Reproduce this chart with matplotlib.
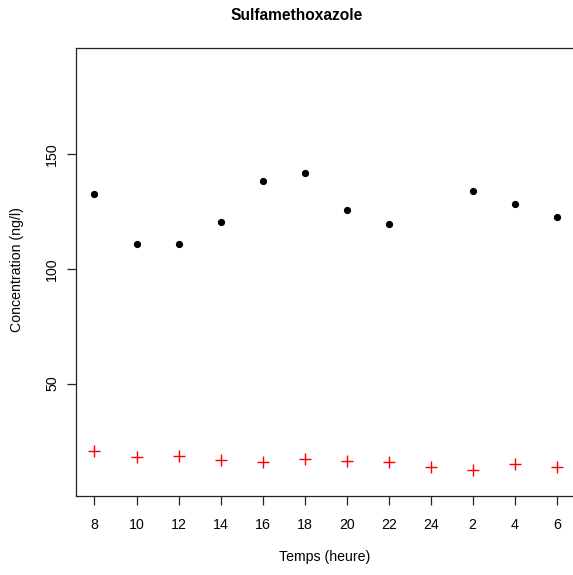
import numpy as np
import matplotlib
matplotlib.use("Agg")
import matplotlib.pyplot as plt

plt.rcParams['font.family'] = ['Liberation Sans', 'DejaVu Sans']

heures = ["8", "10", "12", "14", "16", "18", "20", "22", "24", "2", "4", "6"]
# black dots (no value at 24h)
conc_noir = [132.6, 110.8, 110.8, 120.6, 138.5, 141.7, 125.7, 119.6, np.nan, 134.0, 128.3, 122.7]
# red crosses
conc_rouge = [20.7, 18.2, 18.3, 16.9, 15.9, 17.0, 16.4, 16.0, 13.6, 12.4, 14.9, 13.6]

W, H = 573, 575
fig = plt.figure(figsize=(W / 100, H / 100), dpi=100)
ax = fig.add_axes([76 / W, (H - 496) / H, (575.2 - 76) / W, (496 - 48) / H])

x = np.arange(1, len(heures) + 1)
ax.plot(x, conc_noir, linestyle="none", marker="o", color="black", markersize=4.2)
ax.plot(x, conc_rouge, linestyle="none", marker="+", color="red", markersize=8.5, markeredgewidth=1.0)

ax.set_xlim(0.56, 12.44)
ax.set_ylim(1.05, 196.3)
ax.set_xticks(x)
ax.set_xticklabels(heures)
ax.set_yticks([50, 100, 150])
ax.set_yticklabels(["50", "100", "150"], rotation=90, va="center")

for s in ax.spines.values():
    s.set_linewidth(0.9)
    s.set_color("#222222")
ax.tick_params(direction="out", length=6.5, width=0.9, color="#222222", labelsize=10.2, pad=9.5)
ax.tick_params(axis="y", pad=5.5)

fig.text(296.5 / W, 1 - 16 / H, "Sulfamethoxazole", ha="center", va="center",
         fontsize=11.2, fontweight="bold")
fig.text(325 / W, 1 - 556.7 / H, "Temps (heure)", ha="center", va="center", fontsize=10.2)
fig.text(17 / W, 1 - 270 / H, "Concentration (ng/l)", ha="center", va="center",
         rotation=90, fontsize=10.2)

fig.savefig("out.png", dpi=100)
